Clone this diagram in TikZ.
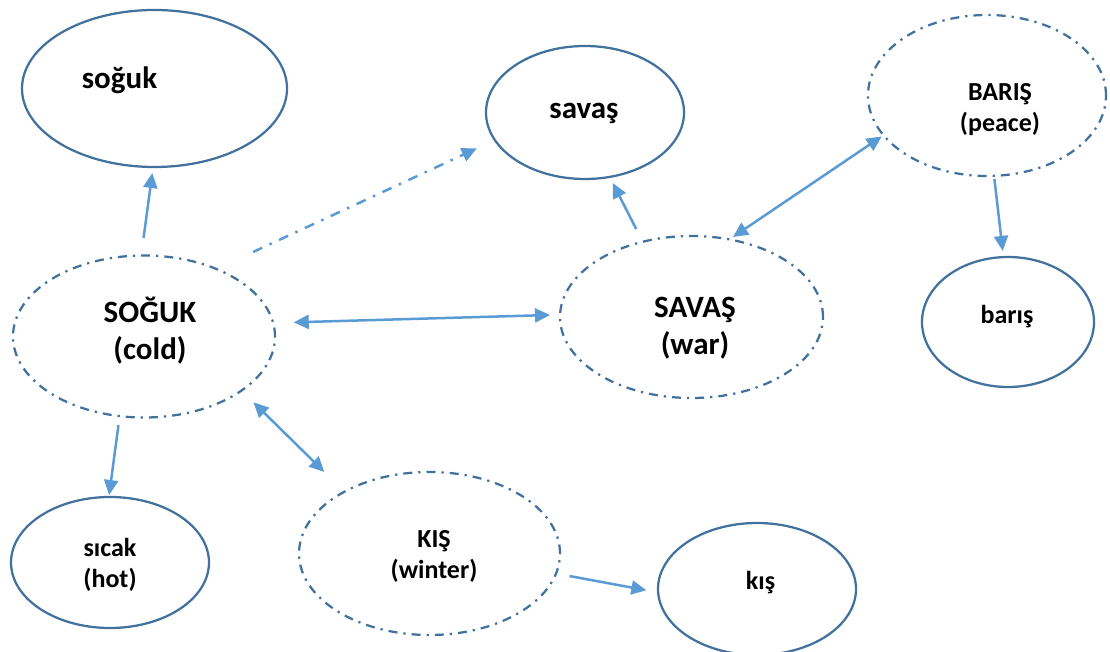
\documentclass[tikz,border=0pt]{standalone}
\usepackage{fontspec}
\setmainfont{Carlito}
\usetikzlibrary{shapes,arrows.meta,positioning}
\usepackage{xcolor}
\definecolor{rimblue}{RGB}{65,113,156}
\definecolor{arrowblue}{RGB}{91,155,213}

\begin{document}
\begin{tikzpicture}[x=1pt, y=-1pt, >={Triangle[length=15pt,width=14pt]},
    wordell/.style={draw=rimblue, line width=2.25pt, ellipse, inner sep=0pt, outer sep=0pt},
    conceptell/.style={wordell, dash pattern=on 9pt off 6pt on 2.25pt off 6pt},
    bigtxt/.style={font=\fontsize{31}{37}\selectfont\bfseries, align=center, inner sep=0pt},
    smalltxt/.style={font=\fontsize{26}{31}\selectfont\bfseries, align=center, inner sep=0pt},
    arrowline/.style={draw=arrowblue, line width=2.5pt}]
    \useasboundingbox (0,0) rectangle (1110,652);

    % ellipses
    \node[wordell, minimum width=265pt, minimum height=157pt] (soguk) at (154.5,88.5) {};
    \node[wordell, minimum width=198pt, minimum height=133pt] (savas) at (585,112.5) {};
    \node[conceptell, minimum width=238pt, minimum height=161pt] (peace) at (987,95.5) {};
    \node[wordell, minimum width=172pt, minimum height=130pt] (baris) at (1008,322) {};
    \node[conceptell, minimum width=262pt, minimum height=162pt] (cold) at (144,336.5) {};
    \node[conceptell, minimum width=263pt, minimum height=162pt] (war) at (691.5,317) {};
    \node[wordell, minimum width=198pt, minimum height=131pt] (sicak) at (110,562.5) {};
    \node[conceptell, minimum width=261pt, minimum height=163pt] (winter) at (429.5,553.5) {};
    \node[wordell, minimum width=198pt, minimum height=132pt] (kis) at (757,589) {};

    % texts
    \node[bigtxt] (soguk-txt) at (119.5,80) {soğuk};
    \node[bigtxt] (savas-txt) at (584,113) {savaş};
    \node[smalltxt] (peace-txt) at (1000,110) {BARIŞ\\(peace)};
    \node[smalltxt] (baris-txt) at (1007,316.5) {barış};
    \node[bigtxt] (cold-txt) at (150,330.5) {SOĞUK\\(cold)};
    \node[bigtxt] (war-txt) at (695,328) {SAVAŞ\\(war)};
    \node[smalltxt] (sicak-txt) at (110,565) {sıcak\\(hot)};
    \node[smalltxt] (winter-txt) at (434,556) {KIŞ\\(winter)};
    \node[smalltxt] (kis-txt) at (760.5,582.5) {kış};

    % arrows
    \draw[arrowline, ->, shorten <=17.7pt, shorten >=6pt] (cold.92) -- (soguk.-91);
    \draw[arrowline, ->, dash pattern=on 10pt off 8pt on 2.5pt off 8pt, shorten <=40.5pt, shorten >=20pt] (cold.43) -- (savas.197);
    \draw[arrowline, <->, shorten <=20.6pt, shorten >=10pt] (cold.6) -- (war.179);
    \draw[arrowline, ->, shorten <=9.2pt, shorten >=2pt] (cold.-107) -- (sicak.91);
    \draw[arrowline, <->, shorten <=16.8pt, shorten >=28.2pt] (cold.-29) -- (winter.144);
    \draw[arrowline, ->, shorten <=13.7pt, shorten >=12pt] (winter.-9) -- (kis.182);
    \draw[arrowline, ->, shorten <=14.3pt, shorten >=6.8pt] (war.123) -- (savas.-69);
    \draw[arrowline, <->, shorten <=4.4pt, shorten >=2.2pt] (war.64) -- (peace.201);
    \draw[arrowline, ->, shorten <=3.1pt, shorten >=6.2pt] (peace.-85) -- (baris.94);
\end{tikzpicture}
\end{document}
